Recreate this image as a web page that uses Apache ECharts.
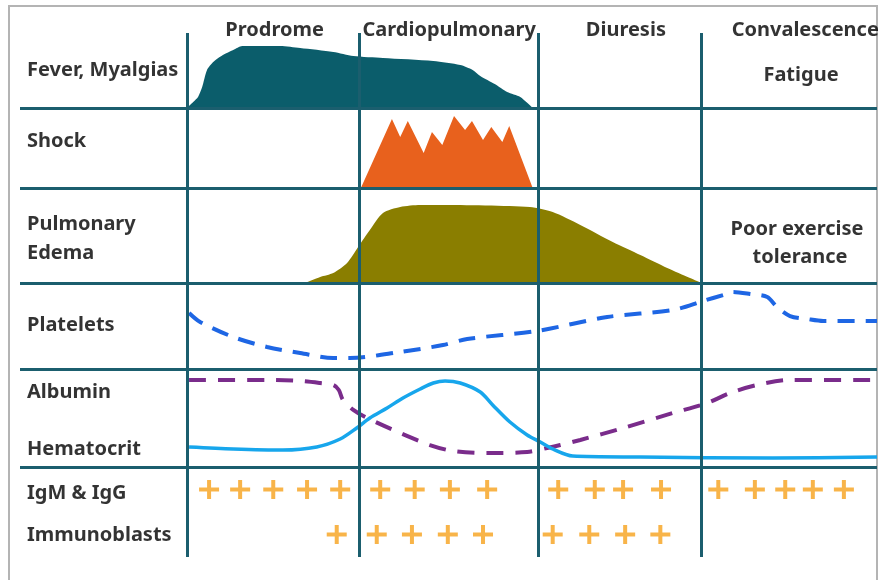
<!DOCTYPE html>
<html>
<head>
<meta charset="utf-8">
<script src="https://cdn.jsdelivr.net/npm/echarts@6/dist/echarts.min.js"></script>
<style>
  html,body{margin:0;padding:0;background:#fff;}
  #main{width:885px;height:580px;}
</style>
</head>
<body>
<div id="main"></div>
<script>
// time runs 0..100 across the four phases
var phases = ['Prodrome','Cardiopulmonary','Diuresis','Convalescence'];
var phaseBounds = [0, 24.9, 50.9, 74.6];
var phaseLabelX = [12.7, 38.0, 63.6, 89.6];

var rowLabels = ['Fever, Myalgias','Shock','Pulmonary','Edema','Platelets','Albumin','Hematocrit','IgM & IgG','Immunoblasts'];
var noteLabels = ['Fatigue','Poor exercise','tolerance'];

// each row: 0 = baseline, 100 = top of row
var fever = [[0,0],[0.9,8],[1.6,14.7],[2.2,28],[2.9,50.7],[3.8,61.3],[5.2,70.7],[6.7,77.3],[8.0,82.7],[13.5,82.7],
  [16.4,80],[21.2,74.7],[24.1,69.3],[28.4,66.7],[35.7,62.7],[39.6,57.3],[41.4,50.7],[42.5,42.7],[44.6,32],
  [46.4,21.3],[48.3,14.7],[50.1,0]];
var shock = [[25.2,0],[29.7,86.3],[30.9,63.8],[32.0,83.8],[34.3,43.8],[35.5,70],[37.0,53.8],[38.7,90],[40.3,72.5],
  [41.3,83.8],[42.9,60],[44.1,76.3],[45.7,57.5],[46.7,77.5],[50.1,0]];
var edema = [[17.1,0],[19.3,6.3],[21.2,10.5],[23.2,21.1],[24.8,37.9],[26.5,55.8],[28.4,73.7],[30.9,80],[33.8,82.1],
  [36.7,82.1],[49.7,80],[53.0,74.7],[57.0,61.1],[61.7,43.2],[65.7,29.5],[69.6,15.8],[72.9,5.3],[74.6,0]];
var platelets = [[0.3,65.1],[1.9,54.7],[6.7,37.2],[11.6,25.6],[16.4,18.6],[21.2,12.8],[23.6,12.8],[30.9,19.8],
  [37.1,27.9],[40.6,34.9],[50.7,44.2],[60.9,60.5],[70.4,68.6],[74.8,79.1],[77.7,86],[79.1,89.5],[81.6,87.2],
  [84.1,83.7],[85.5,72.1],[87.4,61.6],[89.9,58.1],[92.2,55.8],[100,55.8]];
var albumin = [[0.3,88.8],[11.6,88.8],[16.4,87.8],[19.3,85.7],[21.2,83.7],[22.0,78.6],[22.6,68.4],[24.1,58.2],[26.1,50],
  [30.9,34.7],[35.2,22.4],[38.6,16.3],[43.5,14.3],[49.3,15.3],[52.2,19.4],[54.1,22.4],[57.0,27.6],[63.2,39.8],
  [70.4,55.1],[75.4,65.3],[78.7,75.5],[82.6,83.7],[87.4,88.8],[100,88.8]];
var hematocrit = [[0.3,20.4],[6.7,18.4],[13.9,17.3],[18.8,20.4],[22.2,28.6],[24.6,39.8],[26.5,50],[29.0,60.2],
  [31.3,70.4],[33.8,79.6],[35.7,85.7],[37.4,87.8],[39.6,85.7],[42.5,76.5],[44.3,63.3],[46.8,45.9],[49.3,32.7],
  [51.2,25.5],[53.0,18.4],[55.9,11.2],[65.7,10.2],[84.9,9.2],[100,10.2]];
var igmX = [3.2,7.7,12.5,17.4,22.2,28.0,33.0,38.1,43.5,53.8,59.1,63.2,68.7,77.0,82.3,86.7,90.7,95.2];
var blastX = [21.7,27.5,32.6,37.8,42.9,53.0,58.3,63.5,68.6];

// layout (pixels)
var rowEdges = [33,108,188,283,369,467,557];
var plotLeft = 187, frameLeft = 20, right = 8;
var frameMin = -(plotLeft-frameLeft)/(885-right-plotLeft)*100;
var rowLabelY = [70,141,224,253,325,392,449,493,535];
var noteX = [801,797,800], noteY = [75,229,257];
var headerY = 30;

var lineCol = '#1b5e6e';
var font = {fontFamily:'Noto Sans',fontWeight:'bold',fontSize:20,color:'#000'};

function toX(px){ return frameMin + (px-frameLeft)/(885-right-frameLeft)*(100-frameMin); }
function toY(px){ return px - rowEdges[0]; }

var grids = [{left:frameLeft,right:right,top:rowEdges[0],bottom:580-rowEdges[6]}];
var xAxes = [{type:'value',gridIndex:0,min:frameMin,max:100,show:false}];
var yAxes = [{type:'value',gridIndex:0,min:0,max:rowEdges[6]-rowEdges[0],inverse:true,show:false}];
var rowGrid = [0,1,2,3,4,5];
rowGrid.forEach(function(i){
  grids.push({left:plotLeft,right:right,top:rowEdges[i],height:rowEdges[i+1]-rowEdges[i]});
  xAxes.push({type:'value',gridIndex:i+1,min:0,max:100,show:false});
  if (i==5)
    yAxes.push({type:'category',gridIndex:i+1,data:['Immunoblasts','IgM & IgG'],show:false});
  else
    yAxes.push({type:'value',gridIndex:i+1,min:0,max:100,show:false});
});

function area(name,idx,data,color,smooth){
  return {name:name,type:'line',xAxisIndex:idx,yAxisIndex:idx,data:data,symbol:'none',smooth:smooth,
    lineStyle:{width:0},areaStyle:{color:color,opacity:1},z:2,silent:true};
}
function curve(name,idx,data,color,type,width){
  return {name:name,type:'line',xAxisIndex:idx,yAxisIndex:idx,data:data,symbol:'none',smooth:0.3,
    lineStyle:{color:color,width:width,type:type,cap:'butt'},z:4,silent:true};
}
var plus = 'path://M4,0H6V4H10V6H6V10H4V6H0V4H4Z';
function pluses(name,xs,cat){
  return {name:name,type:'scatter',xAxisIndex:6,yAxisIndex:6,symbol:plus,symbolSize:[20,19],
    itemStyle:{color:'#f6a11b'},data:xs.map(function(x){return [x,cat];}),z:4,silent:true};
}

var dividers = phaseBounds.map(function(v){ return {xAxis:v}; })
  .concat(rowEdges.slice(1,6).map(function(v){ return {yAxis:toY(v)}; }));

var texts = [];
phases.forEach(function(p,i){
  texts.push({value:[phaseLabelX[i],toY(headerY)],name:p,label:{position:'inside'}});
});
rowLabels.forEach(function(p,i){
  texts.push({value:[toX(27),toY(rowLabelY[i])],name:p,label:{position:'right',distance:0}});
});
noteLabels.forEach(function(p,i){
  texts.push({value:[toX(noteX[i]),toY(noteY[i])],name:p,label:{position:'inside'}});
});

var chart = echarts.init(document.getElementById('main'));
chart.setOption({
  animation:false,
  backgroundColor:'#fff',
  grid:grids,
  xAxis:xAxes,
  yAxis:yAxes,
  graphic:[{type:'rect',shape:{x:9,y:6,width:868,height:620},style:{fill:null,stroke:'#b4b4b4',lineWidth:2},z:0}],
  series:[
    area('Fever, Myalgias',1,fever,'#0b5d6b',0.25),
    area('Shock',2,shock,'#e8611d',false),
    area('Pulmonary Edema',3,edema,'#8a7e00',0.25),
    curve('Platelets',4,platelets,'#1e66e4',[17,11],4),
    curve('Albumin',5,albumin,'#7a2c8b',[17,12],4),
    curve('Hematocrit',5,hematocrit,'#17a6ec','solid',3.5),
    pluses('IgM & IgG',igmX,'IgM & IgG'),
    pluses('Immunoblasts',blastX,'Immunoblasts'),
    {type:'line',xAxisIndex:0,yAxisIndex:0,data:[],z:5,silent:true,
      markLine:{silent:true,symbol:'none',label:{show:false},
        lineStyle:{color:lineCol,width:3,type:'solid'},data:dividers}},
    {type:'scatter',xAxisIndex:0,yAxisIndex:0,symbolSize:0,clip:false,silent:true,z:6,
      label:{show:true,formatter:'{b}',fontFamily:font.fontFamily,fontWeight:font.fontWeight,
        fontSize:font.fontSize,color:font.color,textBorderWidth:0},
      data:texts}
  ]
});
</script>
</body>
</html>
